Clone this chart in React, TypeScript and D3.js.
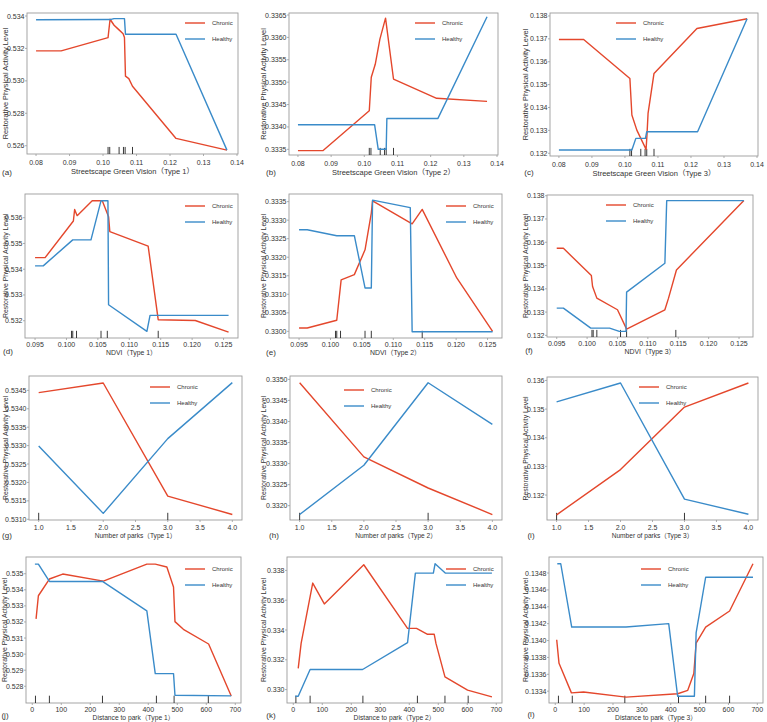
import React from 'react';
import * as d3 from 'd3';

type Pt = [number, number];

// ---- Streetscape Green Vision (partial dependence) ----
const gv1Chronic: Pt[] = [
  [0.08, 0.53185], [0.0875, 0.53185], [0.1015, 0.53267], [0.1021, 0.5338], [0.1033, 0.53343],
  [0.1047, 0.53316], [0.106, 0.53291], [0.1064, 0.53267], [0.1067, 0.53029], [0.1077, 0.53014],
  [0.1088, 0.52967], [0.1218, 0.52645], [0.137, 0.52573],
];
const gv1Healthy: Pt[] = [
  [0.08, 0.53377], [0.1021, 0.53378], [0.1033, 0.53384], [0.1064, 0.53384], [0.1067, 0.53287],
  [0.1218, 0.53287], [0.137, 0.52573],
];
const gv2Chronic: Pt[] = [
  [0.08, 0.33347], [0.0875, 0.33347], [0.1015, 0.33436], [0.1021, 0.33511], [0.1033, 0.3354],
  [0.1047, 0.33596], [0.1064, 0.33643], [0.1088, 0.33507], [0.1218, 0.33464], [0.137, 0.33457],
];
const gv2Healthy: Pt[] = [
  [0.08, 0.33405], [0.1031, 0.33405], [0.1042, 0.3335], [0.1066, 0.3335], [0.1068, 0.33419],
  [0.1222, 0.33419], [0.137, 0.33646],
];
const gv3Chronic: Pt[] = [
  [0.08, 0.13697], [0.0875, 0.13697], [0.1015, 0.13527], [0.1021, 0.13367], [0.1036, 0.13301],
  [0.1064, 0.13217], [0.1067, 0.13287], [0.107, 0.13374], [0.1088, 0.13549], [0.1218, 0.13745],
  [0.137, 0.13788],
];
const gv3Healthy: Pt[] = [
  [0.08, 0.13214], [0.1021, 0.13214], [0.1033, 0.13265], [0.1062, 0.13265], [0.1066, 0.13294],
  [0.122, 0.13294], [0.137, 0.13788],
];
const gvDeciles = [0.1015, 0.102, 0.1048, 0.1061, 0.1066, 0.1088];

// ---- NDVI ----
const ndvi1Chronic: Pt[] = [
  [0.095, 0.53445], [0.0966, 0.53445], [0.1011, 0.53587], [0.1013, 0.53632], [0.1017, 0.53608],
  [0.1041, 0.53666], [0.1057, 0.53666], [0.1067, 0.53604], [0.1069, 0.53546], [0.113, 0.5349],
  [0.1146, 0.53204], [0.1205, 0.53201], [0.1258, 0.53156],
];
const ndvi1Healthy: Pt[] = [
  [0.095, 0.53413], [0.0963, 0.53413], [0.101, 0.53514], [0.1039, 0.53514], [0.1055, 0.53666],
  [0.1066, 0.53666], [0.1067, 0.53262], [0.1128, 0.53159], [0.1133, 0.53221], [0.1258, 0.53221],
];
const ndvi2Chronic: Pt[] = [
  [0.095, 0.33009], [0.0963, 0.33009], [0.101, 0.3303], [0.1017, 0.33139], [0.1038, 0.33153],
  [0.1055, 0.3322], [0.1065, 0.33319], [0.1067, 0.33352], [0.113, 0.3329], [0.1146, 0.33329],
  [0.1201, 0.33144], [0.1258, 0.33],
];
const ndvi2Healthy: Pt[] = [
  [0.095, 0.33274], [0.0963, 0.33274], [0.101, 0.33258], [0.1038, 0.33258], [0.1055, 0.33117],
  [0.1065, 0.33117], [0.1067, 0.33354], [0.1127, 0.33334], [0.113, 0.32999], [0.1258, 0.32999],
];
const ndvi3Chronic: Pt[] = [
  [0.095, 0.13574], [0.0961, 0.13574], [0.1007, 0.13457], [0.1009, 0.1341], [0.1016, 0.1336],
  [0.105, 0.1331], [0.1065, 0.13227], [0.1128, 0.1331], [0.1134, 0.1336], [0.1147, 0.13481],
  [0.1258, 0.13779],
];
const ndvi3Healthy: Pt[] = [
  [0.095, 0.13317], [0.0961, 0.13317], [0.1006, 0.13231], [0.1037, 0.13231], [0.1053, 0.13217],
  [0.1064, 0.13217], [0.1065, 0.13386], [0.1128, 0.1351], [0.1131, 0.13779], [0.1258, 0.13779],
];
const ndviDeciles = [0.1008, 0.101, 0.1016, 0.1055, 0.1065, 0.1146];

// ---- Number of parks ----
const parks1Chronic: Pt[] = [[1, 0.53444], [2, 0.5347], [3, 0.53163], [4, 0.53113]];
const parks1Healthy: Pt[] = [[1, 0.53299], [2, 0.53116], [3, 0.53319], [4, 0.53471]];
const parks2Chronic: Pt[] = [[1, 0.33492], [2, 0.33316], [3, 0.33242], [4, 0.33179]];
const parks2Healthy: Pt[] = [[1, 0.33179], [2, 0.33296], [3, 0.33492], [4, 0.33393]];
const parks3Chronic: Pt[] = [[1, 0.13131], [2, 0.13289], [3, 0.13507], [4, 0.13591]];
const parks3Healthy: Pt[] = [[1, 0.13525], [2, 0.13591], [3, 0.13186], [4, 0.13133]];
const parksDeciles = [1, 3];

// ---- Distance to park ----
const dist1Chronic: Pt[] = [
  [13, 0.53219], [21, 0.53363], [59, 0.53467], [105, 0.53498], [245, 0.53454], [395, 0.5356],
  [424, 0.5356], [464, 0.53542], [487, 0.53417], [492, 0.53202], [521, 0.53154], [608, 0.53063],
  [686, 0.5274],
];
const dist1Healthy: Pt[] = [
  [9, 0.5356], [21, 0.5356], [59, 0.53452], [242, 0.53452], [395, 0.53269], [424, 0.52879],
  [487, 0.52879], [492, 0.52744], [686, 0.5274],
];
const dist2Chronic: Pt[] = [
  [17, 0.33142], [27, 0.3331], [67, 0.33715], [107, 0.33575], [243, 0.33838], [394, 0.33411],
  [425, 0.33411], [463, 0.33371], [486, 0.33371], [492, 0.3331], [523, 0.33085], [601, 0.32996],
  [685, 0.32951],
];
const dist2Healthy: Pt[] = [
  [7, 0.32955], [17, 0.32955], [58, 0.33135], [239, 0.33135], [394, 0.33315], [421, 0.33782],
  [483, 0.33782], [489, 0.33845], [524, 0.33782], [685, 0.33782],
];
const dist3Chronic: Pt[] = [
  [5, 0.13401], [13, 0.13373], [56, 0.13338], [98, 0.13339], [245, 0.13333], [424, 0.13337],
  [459, 0.13341], [480, 0.13361], [488, 0.13397], [521, 0.13416], [604, 0.13435], [685, 0.13491],
];
const dist3Healthy: Pt[] = [
  [7, 0.13491], [19, 0.13491], [57, 0.13416], [245, 0.13416], [393, 0.1342], [424, 0.13334],
  [482, 0.13334], [488, 0.13409], [521, 0.13475], [685, 0.13475],
];
const dist1Deciles = [11, 59, 242, 428, 489, 607];
const dist2Deciles = [9, 58, 240, 428, 523, 603];
const dist3Deciles = [11, 59, 241, 427, 521, 604];

// ---- axis ticks ----
const gvTicks = [0.08, 0.09, 0.1, 0.11, 0.12, 0.13, 0.14];
const ndviTicks = [0.095, 0.1, 0.105, 0.11, 0.115, 0.12, 0.125];
const parksTicks = [1, 1.5, 2, 2.5, 3, 3.5, 4];
const distTicks = [0, 100, 200, 300, 400, 500, 600, 700];

const yTicksA = [0.526, 0.528, 0.53, 0.532, 0.534];
const yTicksB = [0.3335, 0.334, 0.3345, 0.335, 0.3355, 0.336, 0.3365];
const yTicksC = [0.132, 0.133, 0.134, 0.135, 0.136, 0.137, 0.138];
const yTicksD = [0.532, 0.533, 0.534, 0.535, 0.536];
const yTicksE = [0.33, 0.3305, 0.331, 0.3315, 0.332, 0.3325, 0.333, 0.3335];
const yTicksF = [0.132, 0.133, 0.134, 0.135, 0.136, 0.137, 0.138];
const yTicksG = [0.531, 0.5315, 0.532, 0.5325, 0.533, 0.5335, 0.534, 0.5345];
const yTicksH = [0.332, 0.3325, 0.333, 0.3335, 0.334, 0.3345, 0.335];
const yTicksI = [0.132, 0.133, 0.134, 0.135, 0.136];
const yTicksJ = [0.528, 0.529, 0.53, 0.531, 0.532, 0.533, 0.534, 0.535];
const yTicksK = [0.33, 0.332, 0.334, 0.336, 0.338];
const yTicksL = [0.1334, 0.1336, 0.1338, 0.134, 0.1342, 0.1344, 0.1346, 0.1348];

const CHRONIC = '#e4472c';
const HEALTHY = '#3a8bc9';
const FONT = '"Liberation Sans", Arial, "Noto Sans CJK SC", sans-serif';

interface Spec {
  letter: string;
  xLabel: string;
  chronic: Pt[];
  healthy: Pt[];
  deciles: number[];
  xTicks: number[];
  xFmt: string;
  xDomain: [number, number];
  yTicks: number[];
  yFmt: string;
  yDomain: [number, number];
}

const gvDom: [number, number] = [0.0773, 0.1403];
const ndviDom: [number, number] = [0.0934, 0.1273];
const parksDom: [number, number] = [0.85, 4.15];
const distDom: [number, number] = [-21.7, 719.7];

const specs: Spec[] = [
  { letter: '(a)', xLabel: 'Streetscape Green Vision（Type 1）', chronic: gv1Chronic, healthy: gv1Healthy, deciles: gvDeciles, xTicks: gvTicks, xFmt: '.2f', xDomain: gvDom, yTicks: yTicksA, yFmt: '.3f', yDomain: [0.52549, 0.534185] },
  { letter: '(b)', xLabel: 'Streetscape Green Vision（Type 2）', chronic: gv2Chronic, healthy: gv2Healthy, deciles: gvDeciles, xTicks: gvTicks, xFmt: '.2f', xDomain: gvDom, yTicks: yTicksB, yFmt: '.4f', yDomain: [0.333373, 0.336545] },
  { letter: '(c)', xLabel: 'Streetscape Green Vision（Type 3）', chronic: gv3Chronic, healthy: gv3Healthy, deciles: gvDeciles, xTicks: gvTicks, xFmt: '.2f', xDomain: gvDom, yTicks: yTicksC, yFmt: '.3f', yDomain: [0.13188, 0.13813] },
  { letter: '(d)', xLabel: 'NDVI（Type 1）', chronic: ndvi1Chronic, healthy: ndvi1Healthy, deciles: ndviDeciles, xTicks: ndviTicks, xFmt: '.3f', xDomain: ndviDom, yTicks: yTicksD, yFmt: '.3f', yDomain: [0.53133, 0.53692] },
  { letter: '(e)', xLabel: 'NDVI（Type 2）', chronic: ndvi2Chronic, healthy: ndvi2Healthy, deciles: ndviDeciles, xTicks: ndviTicks, xFmt: '.3f', xDomain: ndviDom, yTicks: yTicksE, yFmt: '.4f', yDomain: [0.32982, 0.333706] },
  { letter: '(f)', xLabel: 'NDVI（Type 3）', chronic: ndvi3Chronic, healthy: ndvi3Healthy, deciles: ndviDeciles, xTicks: ndviTicks, xFmt: '.3f', xDomain: ndviDom, yTicks: yTicksF, yFmt: '.3f', yDomain: [0.13193, 0.13803] },
  { letter: '(g)', xLabel: 'Number of parks（Type 1）', chronic: parks1Chronic, healthy: parks1Healthy, deciles: parksDeciles, xTicks: parksTicks, xFmt: '.1f', xDomain: parksDom, yTicks: yTicksG, yFmt: '.4f', yDomain: [0.53098, 0.53489] },
  { letter: '(h)', xLabel: 'Number of parks（Type 2）', chronic: parks2Chronic, healthy: parks2Healthy, deciles: parksDeciles, xTicks: parksTicks, xFmt: '.1f', xDomain: parksDom, yTicks: yTicksH, yFmt: '.4f', yDomain: [0.33166, 0.33508] },
  { letter: '(i)', xLabel: 'Number of parks（Type 3）', chronic: parks3Chronic, healthy: parks3Healthy, deciles: parksDeciles, xTicks: parksTicks, xFmt: '.1f', xDomain: parksDom, yTicks: yTicksI, yFmt: '.3f', yDomain: [0.13113, 0.13612] },
  { letter: '(j)', xLabel: 'Distance to park（Type 1）', chronic: dist1Chronic, healthy: dist1Healthy, deciles: dist1Deciles, xTicks: distTicks, xFmt: 'd', xDomain: distDom, yTicks: yTicksJ, yFmt: '.3f', yDomain: [0.52696, 0.53604] },
  { letter: '(k)', xLabel: 'Distance to park（Type 2）', chronic: dist2Chronic, healthy: dist2Healthy, deciles: dist2Deciles, xTicks: distTicks, xFmt: 'd', xDomain: distDom, yTicks: yTicksK, yFmt: '.3f', yDomain: [0.3291, 0.3389] },
  { letter: '(l)', xLabel: 'Distance to park（Type 3）', chronic: dist3Chronic, healthy: dist3Healthy, deciles: dist3Deciles, xTicks: distTicks, xFmt: 'd', xDomain: distDom, yTicks: yTicksL, yFmt: '.4f', yDomain: [0.13326, 0.13499] },
];

// Plot frames and label anchors for the 3 x 4 grid
interface Box {
  x0: number; x1: number; y0: number; y1: number;
  legX: number; legY: number; yLabX: number; letX: number; letY: number; row: number;
}
const layout: Box[] = [
  { x0: 27, x1: 238, y0: 13, y1: 154, legX: 185, legY: 23, yLabX: 5, letX: 7, letY: 172, row: 0 },
  { x0: 289, x1: 498, y0: 13, y1: 155, legX: 415, legY: 23, yLabX: 263, letX: 271, letY: 172, row: 0 },
  { x0: 550, x1: 758, y0: 13, y1: 156, legX: 616, legY: 23, yLabX: 525, letX: 529, letY: 172, row: 0 },
  { x0: 25, x1: 238, y0: 194, y1: 338, legX: 185, legY: 206, yLabX: 5, letX: 8, letY: 351, row: 1 },
  { x0: 289, x1: 502, y0: 194, y1: 338, legX: 446, legY: 206, yLabX: 263, letX: 271, letY: 352, row: 1 },
  { x0: 547, x1: 753, y0: 195, y1: 337, legX: 606, legY: 205, yLabX: 525, letX: 529, letY: 350, row: 1 },
  { x0: 29, x1: 242, y0: 376, y1: 520, legX: 150, legY: 387, yLabX: 5, letX: 7, letY: 535, row: 2 },
  { x0: 290, x1: 502, y0: 376, y1: 520, legX: 344, legY: 390, yLabX: 263, letX: 274, letY: 535, row: 2 },
  { x0: 547, x1: 758, y0: 377, y1: 520, legX: 639, legY: 387, yLabX: 525, letX: 531, letY: 535, row: 2 },
  { x0: 26, x1: 241, y0: 557, y1: 703, legX: 185, legY: 569, yLabX: 4, letX: 5, letY: 715, row: 3 },
  { x0: 287, x1: 502, y0: 557, y1: 703, legX: 446, legY: 569, yLabX: 263, letX: 271, letY: 715, row: 3 },
  { x0: 549, x1: 763, y0: 557, y1: 703, legX: 641, legY: 569, yLabX: 525, letX: 531, letY: 714, row: 3 },
];

const rowText = [
  { tick: 8.3, title: 17.7, yFont: 7.4, titleFont: 7.5 },
  { tick: 6.5, title: 14, yFont: 6.9, titleFont: 6.9 },
  { tick: 7.7, title: 15, yFont: 6.9, titleFont: 6.6 },
  { tick: 6, title: 14, yFont: 6.9, titleFont: 6.7 },
];

function Panel({ spec, box }: { spec: Spec; box: Box }) {
  const x = d3.scaleLinear().domain(spec.xDomain).range([box.x0, box.x1]);
  const y = d3.scaleLinear().domain(spec.yDomain).range([box.y1, box.y0]);
  const line = d3.line<Pt>().x((d) => x(d[0])).y((d) => y(d[1]));
  const rugH = (box.y1 - box.y0) * 0.05;
  const xf = d3.format(spec.xFmt);
  const yf = d3.format(spec.yFmt);
  const rt = rowText[box.row];
  const cx = (box.x0 + box.x1) / 2;
  const cy = (box.y0 + box.y1) / 2;
  return (
    <g>
      <rect x={box.x0} y={box.y0} width={box.x1 - box.x0} height={box.y1 - box.y0} fill="#fff" stroke="#9b9b9b" strokeWidth={0.9} />
      {spec.deciles.map((d, i) => (
        <line key={'r' + i} x1={x(d)} x2={x(d)} y1={box.y1} y2={box.y1 - rugH} stroke="#222" strokeWidth={0.9} />
      ))}
      <path d={line(spec.chronic) || ''} fill="none" stroke={CHRONIC} strokeWidth={1.4} strokeLinejoin="round" />
      <path d={line(spec.healthy) || ''} fill="none" stroke={HEALTHY} strokeWidth={1.4} strokeLinejoin="round" />
      {spec.yTicks.map((t, i) => (
        <g key={'y' + i}>
          <line x1={box.x0 - 2} x2={box.x0} y1={y(t)} y2={y(t)} stroke="#9b9b9b" strokeWidth={0.8} />
          <text x={box.x0 - 2.5} y={y(t)} textAnchor="end" dominantBaseline="central" fontSize={7} fill="#333">{yf(t)}</text>
        </g>
      ))}
      {spec.xTicks.map((t, i) => (
        <g key={'x' + i}>
          <line x1={x(t)} x2={x(t)} y1={box.y1} y2={box.y1 + 2} stroke="#9b9b9b" strokeWidth={0.8} />
          <text x={x(t)} y={box.y1 + rt.tick} textAnchor="middle" dominantBaseline="central" fontSize={7} fill="#333">{xf(t)}</text>
        </g>
      ))}
      <text x={cx} y={box.y1 + rt.title} textAnchor="middle" dominantBaseline="central" fontSize={rt.titleFont} fill="#333">{spec.xLabel}</text>
      <text transform={`translate(${box.yLabX},${cy}) rotate(-90)`} textAnchor="middle" dominantBaseline="central" fontSize={rt.yFont} fill="#333">
        Restorative Physical Activity Level
      </text>
      <text x={box.letX} y={box.letY} textAnchor="middle" dominantBaseline="central" fontSize={8} fill="#333">{spec.letter}</text>
      <line x1={box.legX} x2={box.legX + 20} y1={box.legY} y2={box.legY} stroke={CHRONIC} strokeWidth={1.4} />
      <text x={box.legX + 27} y={box.legY} dominantBaseline="central" fontSize={6} fill="#333">Chronic</text>
      <line x1={box.legX} x2={box.legX + 20} y1={box.legY + 16} y2={box.legY + 16} stroke={HEALTHY} strokeWidth={1.4} />
      <text x={box.legX + 27} y={box.legY + 16} dominantBaseline="central" fontSize={6} fill="#333">Healthy</text>
    </g>
  );
}

export default function App() {
  return (
    <svg width={767} height={722} style={{ position: 'absolute', left: 0, top: 0, background: '#fff' }} fontFamily={FONT}>
      <rect x={0} y={0} width={767} height={722} fill="#fff" />
      {specs.map((s, i) => (
        <Panel key={s.letter} spec={s} box={layout[i]} />
      ))}
    </svg>
  );
}
